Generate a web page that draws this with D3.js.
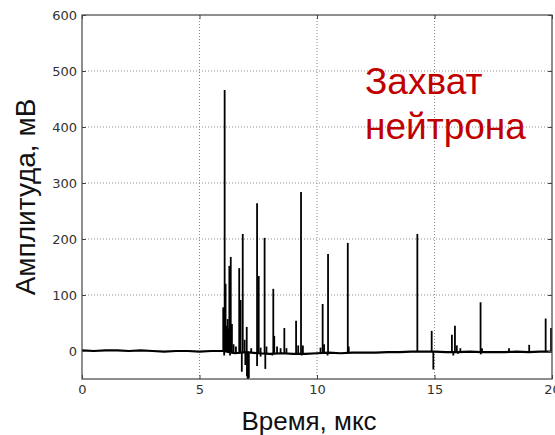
<!DOCTYPE html>
<html>
<head>
<meta charset="utf-8">
<script src="https://cdn.jsdelivr.net/npm/d3@7"></script>
<style>
    body { margin: 0; background: #fff; }
    svg { display: block; }
</style>
</head>
<body>
<div id="chart"></div>
<script>
// baseline of the trace, sampled every 0.5 us (mV)
const baseTimes = [0, 0.5, 1, 1.5, 2, 2.5, 3, 3.5, 4, 4.5, 5, 5.5, 6, 6.5, 7, 7.5, 8, 8.5, 9, 9.5,
    10, 10.5, 11, 11.5, 12, 12.5, 13, 13.5, 14, 14.5, 15, 15.5, 16, 16.5, 17, 17.5, 18, 18.5, 19, 19.5, 20];
const baseValues = [1, 0, 1, 1, 0, 1, 0, -1, 0, 0, -1, 0, 0, -4, -2, -4, -5, -4, -5, -5,
    -4, -3, -4, -3, -3, -3, -2, -2, -1, -1, -1, -2, -2, -1, -2, -2, -2, -1, -2, -1, -1];

// positive pulses: time (us) and peak amplitude (mV)
const spikeTimes = [6.01, 6.07, 6.11, 6.16, 6.2, 6.24, 6.27, 6.33, 6.38, 6.45, 6.55, 6.69, 6.75, 6.84, 6.92,
    7.01, 7.2, 7.45, 7.52, 7.6, 7.77, 7.85, 8.14, 8.18, 8.3, 8.45, 8.61, 8.7, 9.11, 9.2, 9.32, 9.4,
    10.15, 10.24, 10.3, 10.47, 11.31, 11.35, 14.27, 14.88, 15.74, 15.87, 15.95, 16.1, 16.96, 17.02,
    18.17, 19.03, 19.73, 19.96];
const spikeAmps = [78, 466, 120, 45, 57, 40, 152, 168, 48, 12, 8, 148, 91, 209, 20,
    43, 5, 264, 134, 6, 202, 8, 111, 27, 8, 5, 41, 5, 54, 10, 284, 10,
    6, 84, 12, 173, 193, 8, 209, 36, 29, 45, 10, 5, 87, 5,
    5, 11, 58, 41];

// negative excursions: time (us) and minimum (mV)
const dipTimes = [6.05, 6.3, 6.8, 6.95, 7.02, 7.05, 7.07, 7.1, 7.45, 7.6, 7.8, 8.1, 9.0, 9.35, 10.45, 14.95, 15.8, 16.0, 16.97];
const dipAmps = [-8, -8, -37, -25, -45, -50, -50, -48, -27, -10, -32, -8, -6, -8, -8, -33, -8, -5, -6];

const xTicks = [0, 5, 10, 15, 20];
const yTicks = [0, 100, 200, 300, 400, 500, 600];

const margin = { top: 15, right: 3, bottom: 56, left: 82 };
const width = 555 - margin.left - margin.right;
const height = 435 - margin.top - margin.bottom;

const svg = d3
    .select("#chart")
    .append("svg")
    .attr("width", 555)
    .attr("height", 435);

const g = svg.append("g").attr("transform", `translate(${margin.left}, ${margin.top})`);

const xScale = d3.scaleLinear().domain([0, 20]).range([0, width]);
const yScale = d3.scaleLinear().domain([-50, 600]).range([height, 0]);

// grid
g.append("g")
    .selectAll("line")
    .data(xTicks.slice(1, -1))
    .enter()
    .append("line")
    .attr("x1", d => xScale(d))
    .attr("x2", d => xScale(d))
    .attr("y1", 0)
    .attr("y2", height)
    .attr("stroke", "#8a8a8a")
    .attr("stroke-dasharray", "1,2");

g.append("g")
    .selectAll("line")
    .data(yTicks.slice(1, -1))
    .enter()
    .append("line")
    .attr("x1", 0)
    .attr("x2", width)
    .attr("y1", d => yScale(d))
    .attr("y2", d => yScale(d))
    .attr("stroke", "#8a8a8a")
    .attr("stroke-dasharray", "1,2");

// trace
const baseline = baseTimes.map((t, i) => [t, baseValues[i]]);
const nearestBase = t => baseValues[Math.min(baseValues.length - 1, Math.round(t / 0.5))];

const line = d3
    .line()
    .x(d => xScale(d[0]))
    .y(d => yScale(d[1]));

g.append("path")
    .datum(baseline)
    .attr("d", line)
    .attr("fill", "none")
    .attr("stroke", "#000")
    .attr("stroke-width", 2.2);

const pulses = spikeTimes.map((t, i) => ({ t, v: spikeAmps[i] }))
    .concat(dipTimes.map((t, i) => ({ t, v: dipAmps[i] })));

g.append("g")
    .selectAll("line")
    .data(pulses)
    .enter()
    .append("line")
    .attr("x1", d => xScale(d.t))
    .attr("x2", d => xScale(d.t))
    .attr("y1", d => yScale(nearestBase(d.t)))
    .attr("y2", d => yScale(d.v))
    .attr("stroke", "#000")
    .attr("stroke-width", 1.8);

// axes, ticks pointing inward
const styleAxis = sel => {
    sel.select(".domain").remove();
    sel.selectAll(".tick line").attr("stroke", "#444");
    sel.selectAll(".tick text")
        .attr("fill", "#333")
        .style("font-family", "'DejaVu Sans', sans-serif")
        .style("font-size", "13px");
};

g.append("g")
    .call(d3.axisLeft(yScale).tickValues(yTicks).tickSize(-4).tickPadding(5))
    .call(styleAxis);

g.append("g")
    .attr("transform", `translate(0, ${height})`)
    .call(d3.axisBottom(xScale).tickValues(xTicks).tickSize(-4).tickPadding(6))
    .call(styleAxis);

g.append("g")
    .attr("transform", `translate(${width}, 0)`)
    .call(d3.axisRight(yScale).tickValues(yTicks).tickSize(-4).tickFormat(""))
    .call(styleAxis);

g.append("g")
    .call(d3.axisTop(xScale).tickValues(xTicks).tickSize(-4).tickFormat(""))
    .call(styleAxis);

g.append("rect")
    .attr("width", width)
    .attr("height", height)
    .attr("fill", "none")
    .attr("stroke", "#444")
    .attr("stroke-width", 1.2);

// labels
svg.append("text")
    .attr("transform", `translate(35, ${margin.top + height / 2}) rotate(-90)`)
    .attr("text-anchor", "middle")
    .style("font-family", "'Liberation Sans', Arial, sans-serif")
    .style("font-size", "28px")
    .attr("fill", "#111")
    .text("Амплитуда, мВ");

svg.append("text")
    .attr("x", 309)
    .attr("y", 430)
    .attr("text-anchor", "middle")
    .style("font-family", "'Liberation Sans', Arial, sans-serif")
    .style("font-size", "26px")
    .attr("fill", "#111")
    .text("Время, мкс");

const note = svg.append("text")
    .attr("x", 365)
    .attr("y", 94)
    .style("font-family", "'Liberation Sans', Arial, sans-serif")
    .style("font-size", "37px")
    .attr("fill", "#c00000");

note.append("tspan").attr("x", 365).text("Захват");
note.append("tspan").attr("x", 365).attr("dy", 45).text("нейтрона");
</script>
</body>
</html>
